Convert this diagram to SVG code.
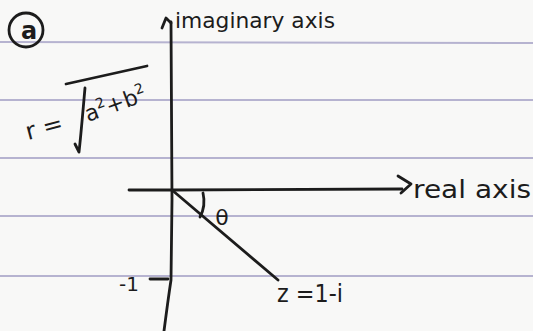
<svg xmlns="http://www.w3.org/2000/svg" width="533" height="331" viewBox="0 0 533 331">
  <style>
    .ink { fill: none; stroke: #1c1c1c; stroke-width: 2.8; stroke-linecap: round; stroke-linejoin: round; }
    .rule { stroke: #b6b3d0; stroke-width: 2; }
    .t { font-family: "DejaVu Sans", "Liberation Sans", sans-serif; fill: #1c1c1c; }
  </style>
  <rect width="533" height="331" fill="#f8f8f7"/>
  <g id="paper-lines">
    <line class="rule" x1="0" y1="42" x2="533" y2="43"/>
    <line class="rule" x1="0" y1="100" x2="533" y2="100"/>
    <line class="rule" x1="0" y1="158" x2="533" y2="158"/>
    <line class="rule" x1="0" y1="216" x2="533" y2="216"/>
    <line class="rule" x1="0" y1="276" x2="533" y2="276"/>
  </g>
  <g id="connectors">
    <path class="ink" d="M171 22 L172 200 L171 280 Q168 300 164 331"/>
    <path class="ink" d="M162 28 L166 18 L171 23"/>
    <path class="ink" d="M129 190 L172 190 L402 189"/>
    <path class="ink" d="M398 176 L411 184 L401 193"/>
    <path class="ink" d="M172 190 L278 280"/>
    <path class="ink" d="M203 193 Q206 206 200 217"/>
    <path class="ink" d="M150 279 L168 279"/>
  </g>
  <g id="part-label">
    <ellipse class="ink" cx="26" cy="30" rx="17" ry="17" stroke-width="3"/>
    <text class="t" x="29" y="39" font-size="24" font-weight="bold" text-anchor="middle">a</text>
  </g>
  <g id="imaginary-axis-label">
    <text class="t" x="175" y="28" font-size="22" textLength="160" lengthAdjust="spacingAndGlyphs">imaginary axis</text>
  </g>
  <g id="real-axis-label">
    <text class="t" x="413" y="198" font-size="24" textLength="118" lengthAdjust="spacingAndGlyphs">real axis</text>
  </g>
  <g id="modulus-label">
    <text class="t" x="28" y="140" font-size="24" transform="rotate(-15 28 140)">r =</text>
    <path class="ink" d="M66 84 L147 66"/>
    <path class="ink" d="M85 88 C83 110 81 135 79 152 L75 144"/>
    <text class="t" x="88" y="122" font-size="22" transform="rotate(-20 88 122)">a<tspan dy="-9" font-size="14">2</tspan><tspan dy="9">+b</tspan><tspan dy="-9" font-size="14">2</tspan></text>
  </g>
  <g id="theta-label">
    <text class="t" x="222" y="225" font-size="22" text-anchor="middle">θ</text>
  </g>
  <g id="tick-label">
    <text class="t" x="119" y="291" font-size="20">-1</text>
  </g>
  <g id="point-label">
    <text class="t" x="277" y="302" font-size="24" textLength="66" lengthAdjust="spacingAndGlyphs">z =1-i</text>
  </g>
</svg>
